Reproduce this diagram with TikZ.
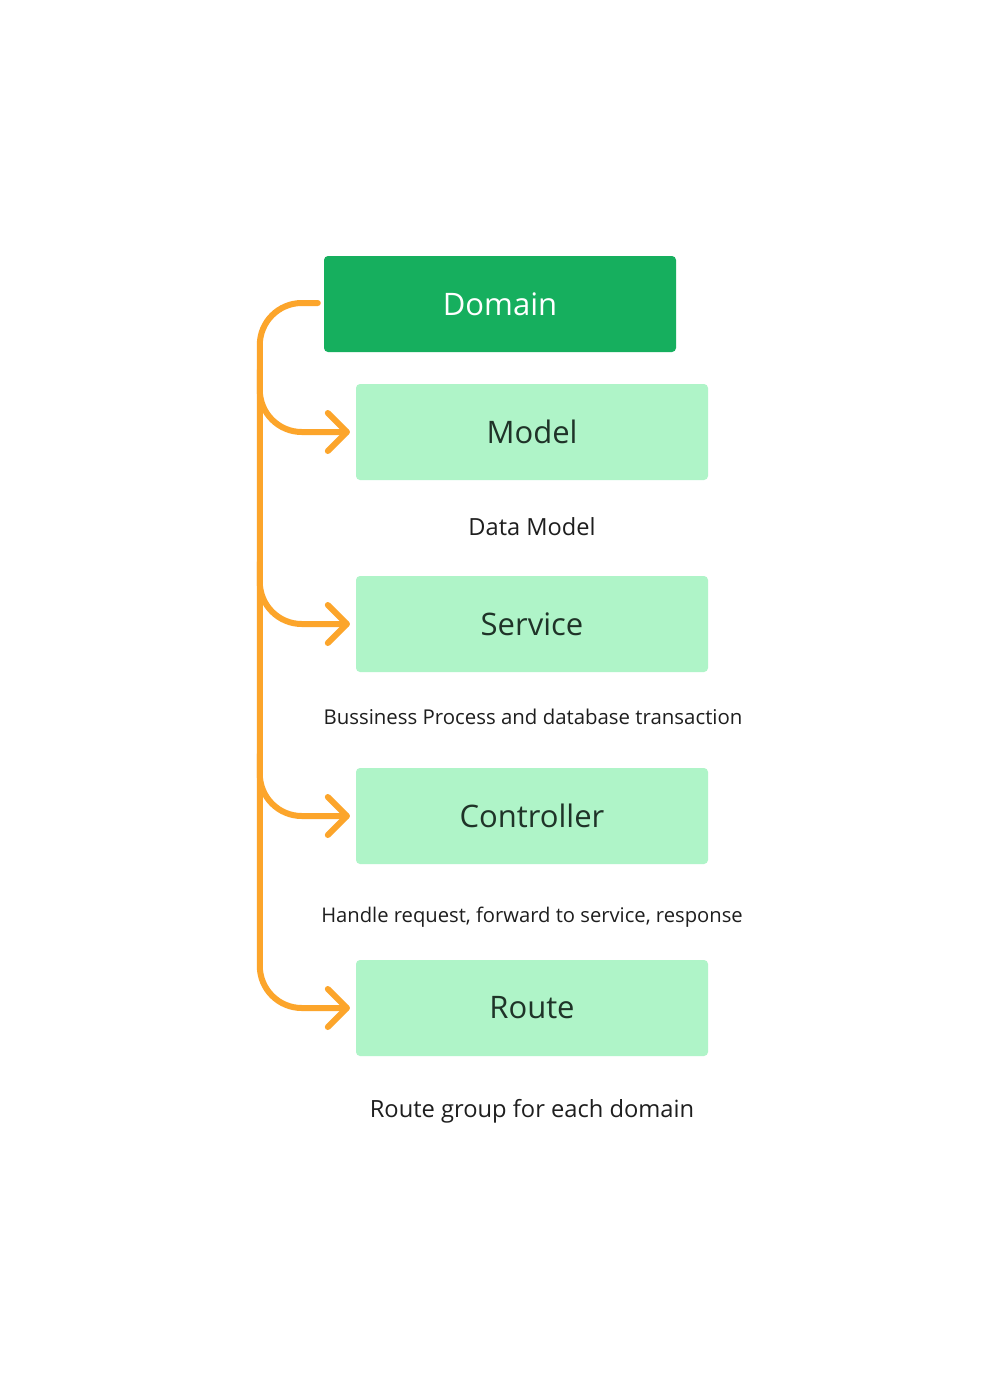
\documentclass[tikz,border=0pt]{standalone}
\usepackage{fontspec}
\setmainfont{Open Sans}
\usetikzlibrary{calc}
\definecolor{dgreen}{HTML}{16AF5E}
\definecolor{lgreen}{HTML}{AFF4C8}
\definecolor{orng}{HTML}{FCA52B}
\definecolor{txt}{HTML}{1E1E1E}
\definecolor{btxt}{HTML}{1F3328}
\newcommand{\lowered}[1]{\raisebox{-1.5pt}{#1}}
\begin{document}
\begin{tikzpicture}[x=1pt,y=-1pt,
  box/.style={fill=lgreen, rounded corners=4pt, minimum width=352pt, minimum height=96pt, inner sep=0pt, text=btxt, font=\fontsize{31}{36}\selectfont},
  captxt/.style={text=txt, inner sep=0pt, anchor=base},
  conn/.style={draw=orng, line width=6pt, line cap=round, line join=round}
]
\useasboundingbox[fill=white] (0,0) rectangle (998,1379);
\node[box, fill=dgreen, text=white] (domain) at (500,304) {\lowered{Domain}};
\node[box] (model) at (532,432) {\lowered{Model}};
\node[box] (service) at (532,624) {\lowered{Service}};
\node[box] (controller) at (532,816) {\lowered{Controller}};
\node[box] (route) at (532,1008) {\lowered{Route}};
\node[captxt, font=\fontsize{23.6}{28}\selectfont] (c1) at (532,535) {Data Model};
\node[captxt, font=\fontsize{20.4}{24}\selectfont] (c2) at (533,724) {Bussiness Process and database transaction};
\node[captxt, font=\fontsize{20.2}{24}\selectfont] (c3) at (532,922) {Handle request, forward to service, response};
\node[captxt, font=\fontsize{23.7}{28}\selectfont] (c4) at (532,1117) {Route group for each domain};
\draw[conn, rounded corners=42pt] ($(domain.west)+(-6,-1)$) -| ($(route.west)+(-96,0)$) -- ($(route.west)+(-9,0)$);
\foreach \n in {model,service,controller}{
  \draw[conn, rounded corners=42pt] ($(\n.west)+(-96,-62)$) |- ($(\n.west)+(-9,0)$);
}
\foreach \n in {model,service,controller,route}{
  \draw[conn] ($(\n.west)+(-28,-19)$) -- ($(\n.west)+(-9,0)$) -- ($(\n.west)+(-28,19)$);
}
\end{tikzpicture}
\end{document}
